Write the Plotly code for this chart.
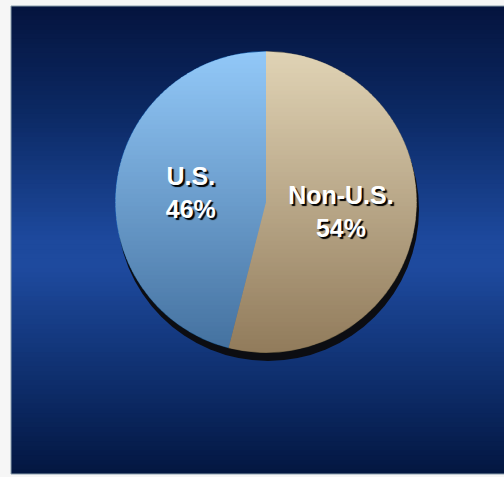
import plotly.graph_objects as go
import numpy as np

# ---- data ----
labels = ["Non-U.S.", "U.S."]
values = [54, 46]
slice_colors = ["rgba(193,167,107,0.5)", "rgba(37,145,241,0.5)"]

# ---- geometry / style ----
W, H = 504, 477
cx, cy, r = 266, 202, 151
panel = (11, 6, 504, 474)

def px(x):
    return x / W

def py(y):
    return 1 - y / H

def lerp_stops(stops, t):
    for (t0, c0), (t1, c1) in zip(stops[:-1], stops[1:]):
        if t0 <= t <= t1:
            f = (t - t0) / (t1 - t0) if t1 > t0 else 0
            c = [round(a + (b - a) * f) for a, b in zip(c0, c1)]
            return "rgb(%d,%d,%d)" % tuple(c)
    c = stops[-1][1]
    return "rgb(%d,%d,%d)" % tuple(c)

bg_stops = [
    (0.00, (5, 20, 62)),
    (0.22, (11, 40, 98)),
    (0.50, (29, 73, 157)),
    (0.56, (30, 74, 158)),
    (0.80, (14, 46, 108)),
    (1.00, (3, 22, 64)),
]

shapes = []
x0p, y0p, x1p, y1p = panel
n = 100
for i in range(n):
    ya = y0p + (y1p - y0p) * i / n
    yb = min(y1p, y0p + (y1p - y0p) * (i + 1) / n + 0.8)
    t = (i + 0.5) / n
    shapes.append(dict(type="rect", xref="paper", yref="paper",
                       x0=px(x0p), x1=px(x1p), y0=py(yb), y1=py(ya),
                       fillcolor=lerp_stops(bg_stops, t), line_width=0, layer="below"))
# panel border
shapes.append(dict(type="rect", xref="paper", yref="paper",
                   x0=px(x0p), x1=px(x1p + 2), y0=py(y1p), y1=py(y0p),
                   fillcolor="rgba(0,0,0,0)", line=dict(color="#8a9eac", width=1), layer="below"))

# pie drop shadow
shapes.append(dict(type="circle", xref="paper", yref="paper",
                   x0=px(cx - r + 2), x1=px(cx + r + 2), y0=py(cy + r + 8), y1=py(cy - r + 7),
                   fillcolor="#0c0d12", line_width=0, layer="below"))

# vertical shading disc under the (semi-transparent) pie
pie_stops = [(0.0, (255, 255, 255)), (1.0, (97, 79, 75))]
rr = r - 0.6
m = 70
for i in range(m):
    ya = cy - rr + 2 * rr * i / m
    yb = min(cy + rr, cy - rr + 2 * rr * (i + 1) / m + 1.0)
    ys = np.linspace(ya, yb, 6)
    right = [(cx + np.sqrt(max(rr**2 - (y - cy) ** 2, 0)), y) for y in ys]
    left = [(cx - np.sqrt(max(rr**2 - (y - cy) ** 2, 0)), y) for y in ys[::-1]]
    pts = right + left
    path = "M " + " L ".join("%.5f,%.5f" % (px(x), py(y)) for x, y in pts) + " Z"
    t = (i + 0.5) / m
    shapes.append(dict(type="path", xref="paper", yref="paper", path=path,
                       fillcolor=lerp_stops(pie_stops, t), line_width=0, layer="below"))

fig = go.Figure(go.Pie(
    labels=labels,
    values=values,
    sort=False,
    direction="clockwise",
    rotation=0,
    marker=dict(colors=slice_colors, line=dict(width=0)),
    texttemplate="%{label}<br>%{percent}",
    textposition="inside",
    insidetextorientation="horizontal",
    textfont=dict(family="Liberation Sans, Arial, sans-serif", size=25, color="white",
                  weight="bold", shadow="2px 2px 1px #000"),
    domain=dict(x=[px(cx - r), px(cx + r)], y=[py(cy + r), py(cy - r)]),
    hoverinfo="label+percent",
    showlegend=False,
))

fig.update_layout(
    width=W, height=H,
    margin=dict(l=0, r=0, t=0, b=0),
    paper_bgcolor="#f6f6f6",
    plot_bgcolor="#f6f6f6",
    showlegend=False,
    shapes=shapes,
)

fig.write_html("out.html")
